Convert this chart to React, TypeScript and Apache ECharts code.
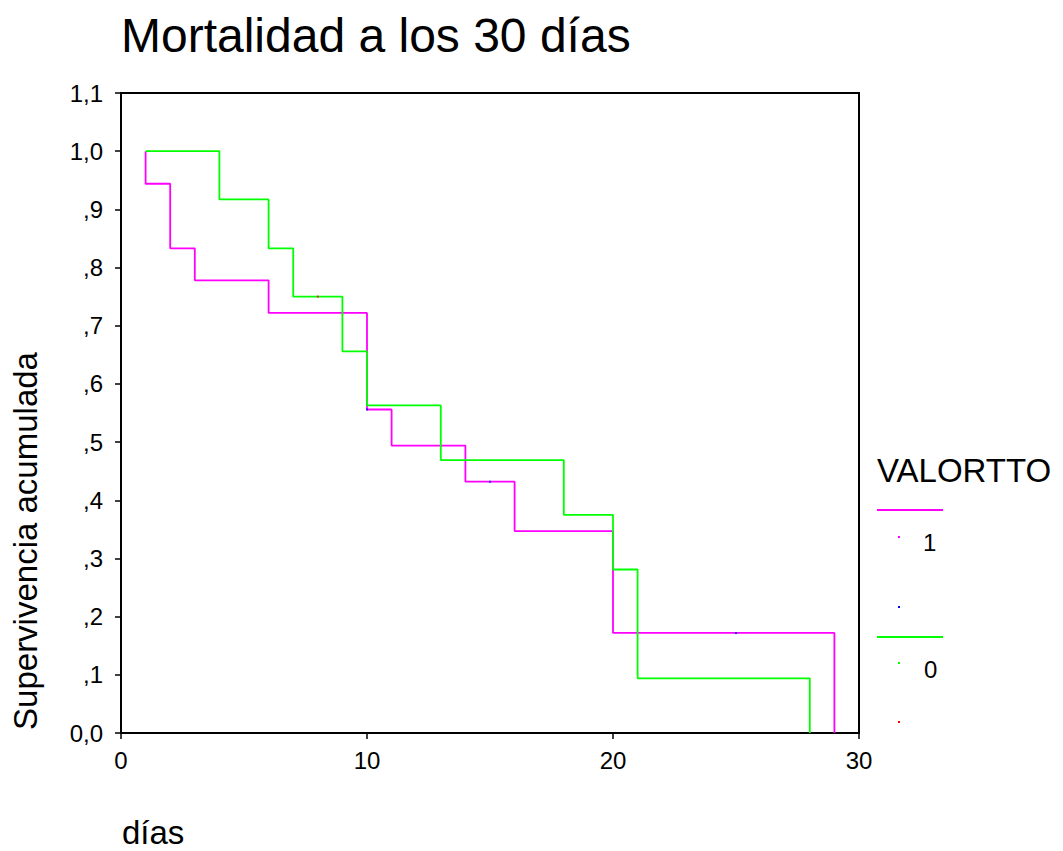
import React, { useEffect, useRef } from "react";
import * as echarts from "echarts";

// Kaplan-Meier steps: VALORTTO = 1
const group1Times = [1, 1, 2, 3, 6, 10, 11, 14, 16, 20, 29];
const group1Surv = [1.0, 0.944, 0.833, 0.778, 0.722, 0.556, 0.494, 0.432, 0.347, 0.172, 0.0];
const group1CensTimes = [10, 15, 25];
const group1CensSurv = [0.556, 0.432, 0.172];

// Kaplan-Meier steps: VALORTTO = 0
const group0Times = [1, 4, 6, 7, 9, 10, 13, 18, 20, 21, 28];
const group0Surv = [1.0, 0.917, 0.833, 0.75, 0.656, 0.563, 0.469, 0.375, 0.281, 0.094, 0.0];
const group0CensTimes = [8];
const group0CensSurv = [0.75];

const xTicks = [0, 10, 20, 30];
const titleText = "Mortalidad a los 30 días";
const yAxisTitle = "Supervivencia acumulada";
const xAxisTitle = "días";
const legendTitle = "VALORTTO";
const legendLabels = ["1", "0"];

const FONT = "'Liberation Sans', Arial, Helvetica, sans-serif";
const MAGENTA = "#FF00FF";
const GREEN = "#00FF00";

const zip = (a: number[], b: number[]) => a.map((v, i) => [v, b[i]]);

const fmtY = (v: number) => {
  const n = Math.round(v * 10);
  if (n === 0) return "0,0";
  if (n < 10) return "," + n;
  return Math.floor(n / 10) + "," + (n % 10);
};

export default function App() {
  const ref = useRef<HTMLDivElement>(null);
  useEffect(() => {
    if (!ref.current) return;
    const chart = echarts.init(ref.current, undefined, { renderer: "svg" });
    const dot = (x: number, y: number, color: string) => ({
      type: "rect",
      shape: { x: x - 1, y: y - 1, width: 2, height: 2 },
      style: { fill: color },
    });
    chart.setOption({
      animation: false,
      backgroundColor: "#fff",
      textStyle: { fontFamily: FONT },
      grid: {
        left: 121,
        top: 93,
        width: 738,
        height: 640,
        show: true,
        borderColor: "#000",
        borderWidth: 2,
        backgroundColor: "transparent",
      },
      xAxis: {
        type: "value",
        min: xTicks[0],
        max: xTicks[xTicks.length - 1],
        interval: 10,
        splitLine: { show: false },
        axisLine: { show: true, onZero: false, lineStyle: { color: "#000", width: 2 } },
        axisTick: { show: true, length: 6, lineStyle: { color: "#000", width: 1.5 } },
        axisLabel: { color: "#000", fontSize: 24, fontFamily: FONT, margin: 15 },
      },
      yAxis: {
        type: "value",
        min: 0,
        max: 1.1,
        interval: 0.1,
        splitLine: { show: false },
        axisLine: { show: true, onZero: false, lineStyle: { color: "#000", width: 2 } },
        axisTick: { show: true, length: 6, lineStyle: { color: "#000", width: 1.5 } },
        axisLabel: { color: "#000", fontSize: 24, fontFamily: FONT, margin: 18, formatter: fmtY },
      },
      series: [
        {
          type: "line",
          step: "end",
          data: zip(group1Times, group1Surv),
          showSymbol: false,
          lineStyle: { color: MAGENTA, width: 1.8 },
          itemStyle: { color: MAGENTA },
          z: 2,
        },
        {
          type: "line",
          step: "end",
          data: zip(group0Times, group0Surv),
          showSymbol: false,
          lineStyle: { color: GREEN, width: 1.8 },
          itemStyle: { color: GREEN },
          z: 3,
        },
        {
          type: "scatter",
          data: zip(group1CensTimes, group1CensSurv),
          symbol: "rect",
          symbolSize: 2,
          itemStyle: { color: "#0000FF" },
          z: 4,
        },
        {
          type: "scatter",
          data: zip(group0CensTimes, group0CensSurv),
          symbol: "rect",
          symbolSize: 2,
          itemStyle: { color: "#FF0000" },
          z: 4,
        },
      ],
      graphic: [
        {
          type: "text",
          x: 121,
          y: 35,
          style: { text: titleText, font: `48px ${FONT}`, fill: "#000", align: "left", verticalAlign: "middle" },
        },
        {
          type: "text",
          x: 25,
          y: 541,
          rotation: Math.PI / 2,
          style: { text: yAxisTitle, font: `33px ${FONT}`, fill: "#000", align: "center", verticalAlign: "middle" },
        },
        {
          type: "text",
          x: 122,
          y: 832,
          style: { text: xAxisTitle, font: `33px ${FONT}`, fill: "#000", align: "left", verticalAlign: "middle" },
        },
        {
          type: "text",
          x: 877,
          y: 470,
          style: { text: legendTitle, font: `33px ${FONT}`, fill: "#000", align: "left", verticalAlign: "middle" },
        },
        {
          type: "line",
          shape: { x1: 877, y1: 510, x2: 943, y2: 510 },
          style: { stroke: MAGENTA, lineWidth: 2 },
        },
        dot(899, 537, MAGENTA),
        {
          type: "text",
          x: 923,
          y: 542,
          style: { text: legendLabels[0], font: `24px ${FONT}`, fill: "#000", align: "left", verticalAlign: "middle" },
        },
        dot(899, 607, "#0000FF"),
        {
          type: "line",
          shape: { x1: 877, y1: 637, x2: 943, y2: 637 },
          style: { stroke: GREEN, lineWidth: 2 },
        },
        dot(899, 663, GREEN),
        {
          type: "text",
          x: 924,
          y: 669,
          style: { text: legendLabels[1], font: `24px ${FONT}`, fill: "#000", align: "left", verticalAlign: "middle" },
        },
        dot(899, 722, "#FF0000"),
      ],
    });
    return () => chart.dispose();
  }, []);
  return (
    <div
      ref={ref}
      style={{ position: "fixed", left: 0, top: 0, width: 1063, height: 851, background: "#fff" }}
    />
  );
}
